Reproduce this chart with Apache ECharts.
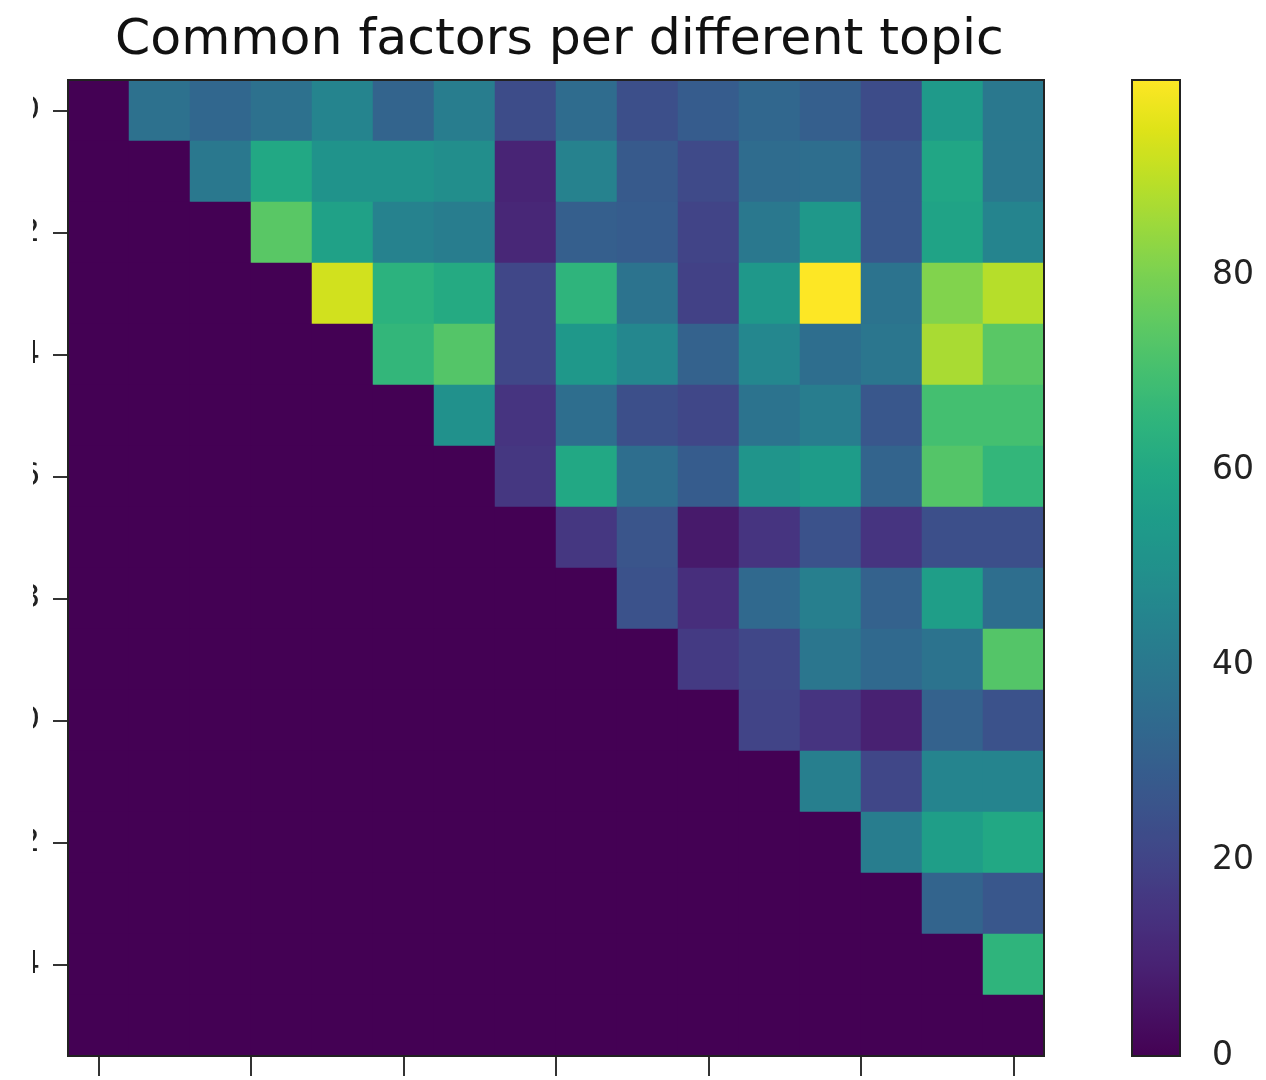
<!DOCTYPE html>
<html>
<head>
<meta charset="utf-8">
<title>Common factors per different topic</title>
<script src="https://cdn.jsdelivr.net/npm/echarts@6/dist/echarts.min.js"></script>
<style>
    html, body { margin: 0; padding: 0; background: #fff; }
    /* the reference is cropped on the left, so the y labels are cut off */
    .crop { position: absolute; left: 33px; top: 0; width: 1233px; height: 1080px; overflow: hidden; }
    .heat { position: absolute; left: -33px; top: 0; width: 1266px; height: 1080px; }
</style>
</head>
<body>
<div class="crop"><div class="heat"></div></div>
<script>
// topic ids on both axes
const topics = ['0', '1', '2', '3', '4', '5', '6', '7', '8', '9', '10', '11', '12', '13', '14', '15'];
// common factors, one row per topic (upper triangle only)
const row0 = [0, 37, 33, 37, 45, 32, 42, 23, 35, 24, 29, 33, 30, 23, 54, 40];
const row1 = [0, 0, 40, 60, 51, 51, 49, 10, 44, 28, 22, 35, 36, 27, 59, 40];
const row2 = [0, 0, 0, 74, 57, 44, 42, 11, 30, 29, 20, 40, 53, 27, 58, 45];
const row3 = [0, 0, 0, 0, 93, 64, 61, 21, 65, 38, 19, 53, 100, 38, 81, 89];
const row4 = [0, 0, 0, 0, 0, 66, 73, 21, 53, 46, 31, 46, 36, 39, 87, 74];
const row5 = [0, 0, 0, 0, 0, 0, 50, 15, 36, 24, 21, 38, 42, 27, 70, 70];
const row6 = [0, 0, 0, 0, 0, 0, 0, 16, 60, 36, 29, 52, 55, 32, 73, 66];
const row7 = [0, 0, 0, 0, 0, 0, 0, 0, 16, 26, 7, 15, 25, 15, 24, 24];
const row8 = [0, 0, 0, 0, 0, 0, 0, 0, 0, 25, 13, 34, 43, 31, 56, 36];
const row9 = [0, 0, 0, 0, 0, 0, 0, 0, 0, 0, 17, 21, 39, 34, 38, 73];
const row10 = [0, 0, 0, 0, 0, 0, 0, 0, 0, 0, 0, 20, 15, 9, 31, 25];
const row11 = [0, 0, 0, 0, 0, 0, 0, 0, 0, 0, 0, 0, 43, 21, 45, 45];
const row12 = [0, 0, 0, 0, 0, 0, 0, 0, 0, 0, 0, 0, 0, 42, 56, 60];
const row13 = [0, 0, 0, 0, 0, 0, 0, 0, 0, 0, 0, 0, 0, 0, 32, 27];
const row14 = [0, 0, 0, 0, 0, 0, 0, 0, 0, 0, 0, 0, 0, 0, 0, 65];
const row15 = [0, 0, 0, 0, 0, 0, 0, 0, 0, 0, 0, 0, 0, 0, 0, 0];
// tick positions
const xTicks = [0, 2.5, 5, 7.5, 10, 12.5, 15];
const yTicks = [0, 2, 4, 6, 8, 10, 12, 14];
const colorbarTicks = [0, 20, 40, 60, 80];
const colorMax = 100;

// viridis
const viridis = ['#440154', '#471365', '#482475', '#463480', '#414487', '#3b528b', '#355f8d',
    '#2f6c8e', '#2a788e', '#25848e', '#21918c', '#1e9c89', '#22a884', '#2fb47c', '#44bf70',
    '#5ec962', '#7ad151', '#9bd93c', '#bddf26', '#dfe318', '#fde725'];

const rows = [row0, row1, row2, row3, row4, row5, row6, row7, row8, row9, row10, row11, row12, row13, row14, row15];
let cells = [];
rows.forEach(function(row, y) {
    row.forEach(function(v, x) {
        cells.push([x, y, v]);
    });
});

let myChart = echarts.init(document.querySelector('.heat'));
let font = 'DejaVu Sans';
let tickStyle = { color: '#333', width: 2 };
let option = {
    backgroundColor: '#fff',
    animation: false,
    title: {
        text: 'Common factors per different topic',
        left: 110,
        top: 10,
        textStyle: { fontFamily: font, fontWeight: 'normal', fontSize: 50.5, color: '#111' }
    },
    grid: [
        { left: 68, top: 80, width: 976, height: 976, show: true, z: 5, outerBoundsMode: 'none', borderColor: '#222', borderWidth: 2, backgroundColor: 'transparent' },
        // colorbar frame
        { left: 1132, top: 80, width: 48, height: 976, show: true, z: 10, outerBoundsMode: 'none', borderColor: '#222', borderWidth: 2, backgroundColor: 'transparent' }
    ],
    xAxis: [
        { type: 'category', gridIndex: 0, data: topics, show: false },
        {
            type: 'value', gridIndex: 0, position: 'bottom', min: -0.5, max: 15.5,
            axisLine: { show: false },
            axisTick: { show: true, length: 20, customValues: xTicks, lineStyle: tickStyle },
            axisLabel: { show: false },
            splitLine: { show: false }
        },
        { type: 'value', gridIndex: 1, min: 0, max: 1, show: false }
    ],
    yAxis: [
        { type: 'category', gridIndex: 0, data: topics, inverse: true, show: false },
        {
            type: 'value', gridIndex: 0, position: 'left', min: -0.5, max: 15.5, inverse: true,
            axisLine: { show: false },
            axisTick: { show: true, length: 15, customValues: yTicks, lineStyle: tickStyle },
            axisLabel: { margin: 28, customValues: yTicks, fontFamily: font, fontSize: 32, color: '#222' },
            splitLine: { show: false }
        },
        {
            type: 'value', gridIndex: 1, position: 'right', min: 0, max: colorMax,
            axisLine: { show: false },
            axisTick: { show: true, length: 17, customValues: colorbarTicks, lineStyle: tickStyle },
            axisLabel: { margin: 32, customValues: colorbarTicks, fontFamily: font, fontSize: 33, color: '#222' },
            splitLine: { show: false }
        }
    ],
    visualMap: {
        type: 'continuous',
        min: 0,
        max: colorMax,
        calculable: false,
        seriesIndex: 0,
        orient: 'vertical',
        left: 1132,
        top: 80,
        padding: 0,
        itemWidth: 48,
        itemHeight: 976,
        text: null,
        showLabel: false,
        inRange: { color: viridis }
    },
    series: [{
        type: 'heatmap',
        xAxisIndex: 0,
        yAxisIndex: 0,
        data: cells,
        emphasis: { disabled: true }
    }]
};
myChart.setOption(option);
window.addEventListener('resize', function() {
    myChart.resize();
});
</script>
</body>
</html>
